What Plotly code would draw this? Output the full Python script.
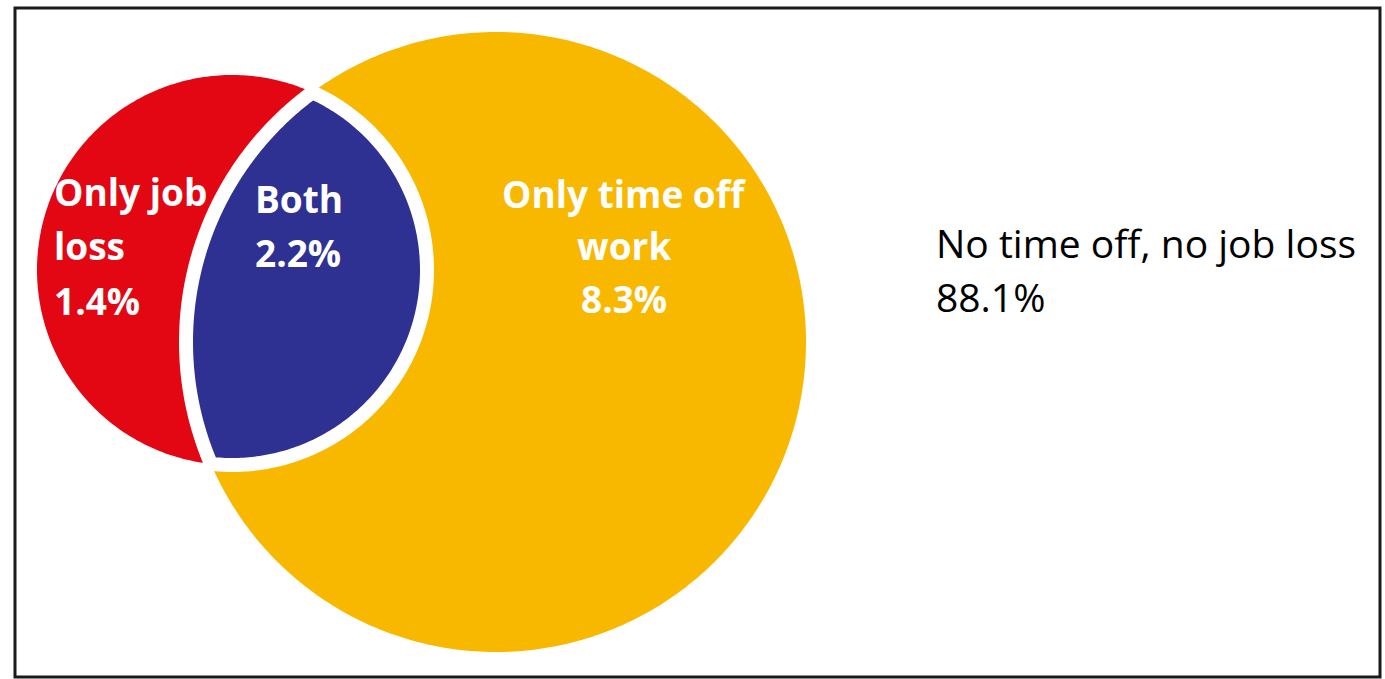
import numpy as np
import plotly.graph_objects as go

# ---- data ----
segments = ["Only job loss", "Both", "Only time off work", "No time off, no job loss"]
shares = [1.4, 2.2, 8.3, 88.1]
label_lines = [["Only job", "loss"], ["Both"], ["Only time off", "work"], ["No time off, no job loss"]]

# ---- styles / geometry (pixel space) ----
W, H = 1385, 679
RED, BLUE, YELLOW = "#E30613", "#2E3192", "#F9B800"
JOB_C, JOB_R = (232.0, 270.0), 195.0        # circle: any job loss
TIME_C, TIME_R = (496.0, 342.0), 310.0      # circle: any time off work
LENS_STROKE = 14

def circle(c, r, n=400):
    t = np.linspace(0, 2 * np.pi, n)
    return c[0] + r * np.cos(t), c[1] + r * np.sin(t)

def intersections(c1, r1, c2, r2):
    c1, c2 = np.array(c1), np.array(c2)
    d = np.linalg.norm(c2 - c1)
    a = (r1**2 - r2**2 + d**2) / (2 * d)
    h = np.sqrt(r1**2 - a**2)
    u = (c2 - c1) / d
    p = c1 + a * u
    perp = np.array([-u[1], u[0]])
    return p + h * perp, p - h * perp

def arc(c, r, p0, p1, through, n=200):
    a0 = np.arctan2(p0[1] - c[1], p0[0] - c[0])
    a1 = np.arctan2(p1[1] - c[1], p1[0] - c[0])
    d1 = (a1 - a0) % (2 * np.pi)
    dt = (through - a0) % (2 * np.pi)
    sweep = d1 if dt <= d1 else d1 - 2 * np.pi
    t = a0 + np.linspace(0, sweep, n)
    return c[0] + r * np.cos(t), c[1] + r * np.sin(t)

P1, P2 = intersections(JOB_C, JOB_R, TIME_C, TIME_R)
to_time = np.arctan2(TIME_C[1] - JOB_C[1], TIME_C[0] - JOB_C[0])
to_job = np.arctan2(JOB_C[1] - TIME_C[1], JOB_C[0] - TIME_C[0])
ax1, ay1 = arc(JOB_C, JOB_R, P1, P2, to_time)
ax2, ay2 = arc(TIME_C, TIME_R, P2, P1, to_job)
lens_x = np.concatenate([ax1, ax2[1:]])
lens_y = np.concatenate([ay1, ay2[1:]])

fig = go.Figure()
rx, ry = circle(JOB_C, JOB_R)
yx, yy = circle(TIME_C, TIME_R)
fig.add_trace(go.Scatter(x=rx, y=ry, fill="toself", fillcolor=RED, mode="lines",
                         line=dict(width=0, color=RED, simplify=False), hoverinfo="skip", name=segments[0]))
fig.add_trace(go.Scatter(x=yx, y=yy, fill="toself", fillcolor=YELLOW, mode="lines",
                         line=dict(width=0, color=YELLOW, simplify=False), hoverinfo="skip", name=segments[2]))
fig.add_trace(go.Scatter(x=lens_x, y=lens_y, fill="toself", fillcolor=BLUE, mode="lines",
                         line=dict(width=LENS_STROKE, color="white", simplify=False), hoverinfo="skip",
                         name=segments[1]))

# ---- labels ----
label_pos = [
    dict(x=52, ys=[191, 245, 300], anchor="left", color="white", bold=True),
    dict(x=253, ys=[198, 252], anchor="left", color="white", bold=True),
    dict(x=624, ys=[193, 245, 298], anchor="center", color="white", bold=True),
    dict(x=934, ys=[242, 296], anchor="left", color="black", bold=False),
]
annotations = []
for lines, share, pos in zip(label_lines, shares, label_pos):
    texts = lines + [f"{share}%"]
    for txt, yv in zip(texts, pos["ys"]):
        annotations.append(dict(
            x=pos["x"], y=yv, xref="x", yref="y", text=f"<b>{txt}</b>" if pos["bold"] else txt,
            showarrow=False, xanchor=pos["anchor"], yanchor="middle",
            font=dict(family="Open Sans", size=37 if pos["bold"] else 39, color=pos["color"]),
        ))

fig.update_layout(
    width=W, height=H, margin=dict(l=0, r=0, t=0, b=0),
    paper_bgcolor="white", plot_bgcolor="white", showlegend=False,
    xaxis=dict(range=[0, W], visible=False, fixedrange=True),
    yaxis=dict(range=[H, 0], visible=False, fixedrange=True),
    annotations=annotations,
    shapes=[dict(type="rect", xref="x", yref="y", x0=15, y0=8, x1=1380, y1=677,
                 line=dict(color="#1a1a1a", width=3), layer="above")],
)
fig.write_html("out.html")
